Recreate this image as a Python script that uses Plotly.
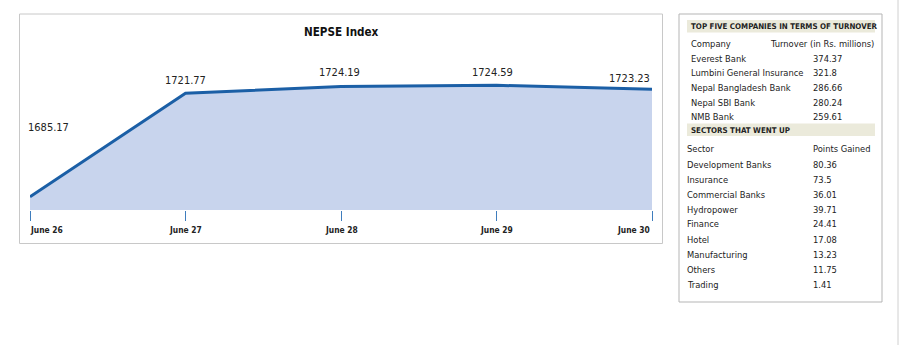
import plotly.graph_objects as go

# NEPSE index, daily close
dates = ["June 26", "June 27", "June 28", "June 29", "June 30"]
index_close = [1685.17, 1721.77, 1724.19, 1724.59, 1723.23]

# Top five companies by turnover
companies = ["Everest Bank", "Lumbini General Insurance", "Nepal Bangladesh Bank",
             "Nepal SBI Bank", "NMB Bank"]
turnover = ["374.37", "321.8", "286.66", "280.24", "259.61"]

# Sectors that went up
sectors = ["Development Banks", "Insurance", "Commercial Banks", "Hydropower",
           "Finance", "Hotel", "Manufacturing", "Others", "Trading"]
points_gained = ["80.36", "73.5", "36.01", "39.71", "24.41", "17.08",
                 "13.23", "11.75", "1.41"]

W, H = 900, 345
FONT = "DejaVu Sans Condensed, Roboto"
LINE = "#1b5fa6"
FILL = "#c8d4ed"
BAND = "#ebeadb"
INK = "#222"

def px(x):
    return x / W

def py(y):
    return 1 - y / H

fig = go.Figure()
fig.add_trace(go.Scatter(
    x=list(range(len(dates))), y=index_close, mode="lines",
    line=dict(color=LINE, width=3), fill="tozeroy", fillcolor=FILL,
    hoverinfo="skip", showlegend=False,
))

annotations = []
# value labels above each point
label_yshift = [69, 12.6, 13.5, 13, 11]
label_xshift = [18, 0, -2, -4, 0]
label_anchor = ["center", "center", "center", "center", "right"]
for i, v in enumerate(index_close):
    annotations.append(dict(
        x=i, y=v, xref="x", yref="y", text=f"{v:.2f}", showarrow=False,
        xanchor=label_anchor[i], yanchor="middle",
        yshift=label_yshift[i], xshift=label_xshift[i],
        font=dict(family=FONT, size=11, color=INK)))

# date labels under the axis ticks
date_anchor = ["left", "center", "center", "center", "right"]
for i, d in enumerate(dates):
    annotations.append(dict(
        x=i, y=py(230), xref="x", yref="paper", text=f"<b>{d}</b>",
        showarrow=False, xanchor=date_anchor[i], yanchor="middle",
        xshift=-2 if i == 0 else 0,
        font=dict(family=FONT, size=8.4, color=INK)))

annotations.append(dict(
    x=px(341), y=py(32), xref="paper", yref="paper", text="<b>NEPSE Index</b>",
    showarrow=False, xanchor="center", yanchor="middle",
    font=dict(family=FONT, size=11.6, color="#111")))

# side table
def txt(x, y, s, anchor="left", size=9.3, bold=False):
    annotations.append(dict(
        x=px(x), y=py(y), xref="paper", yref="paper",
        text=f"<b>{s}</b>" if bold else s, showarrow=False,
        xanchor=anchor, yanchor="middle",
        font=dict(family=FONT, size=size, color=INK)))

txt(689, 26.5, "TOP FIVE COMPANIES IN TERMS OF TURNOVER", size=7.9, bold=True)
txt(689, 43, "Company")
txt(876, 43, "Turnover (in Rs. millions)", anchor="right")
for k, (c, t) in enumerate(zip(companies, turnover)):
    y = 58.3 + k * 14.6
    txt(689, y, c)
    txt(811, y, t)
txt(689, 130, "SECTORS THAT WENT UP", size=7.9, bold=True)
txt(685, 148.3, "Sector")
txt(811, 148.3, "Points Gained")
for k, (s, p) in enumerate(zip(sectors, points_gained)):
    y = 164 + k * 15
    txt(685, y, s)
    txt(811, y, p)

shapes = [
    dict(type="rect", xref="paper", yref="paper", x0=px(19.5), x1=px(662.5),
         y0=py(243.5), y1=py(14), line=dict(color="#c8c8c8", width=1)),
    dict(type="rect", xref="paper", yref="paper", x0=px(679), x1=px(882),
         y0=py(302), y1=py(14), line=dict(color="#b5b5b5", width=1)),
    dict(type="rect", xref="paper", yref="paper", x0=px(687), x1=px(875),
         y0=py(32.5), y1=py(20), fillcolor=BAND, line=dict(width=0), layer="below"),
    dict(type="rect", xref="paper", yref="paper", x0=px(687), x1=px(875),
         y0=py(136), y1=py(123.5), fillcolor=BAND, line=dict(width=0), layer="below"),
    dict(type="line", xref="paper", yref="paper", x0=px(898), x1=px(898),
         y0=0, y1=1, line=dict(color="#d0d0d0", width=1)),
]

fig.update_layout(
    width=W, height=H, margin=dict(l=0, r=0, t=0, b=0),
    paper_bgcolor="white", plot_bgcolor="white",
    xaxis=dict(domain=[px(30), px(652)], range=[0, len(dates) - 1],
               tickvals=list(range(len(dates))), showticklabels=False,
               ticks="outside", ticklen=10, tickcolor="#3f7dbd", tickwidth=1,
               showgrid=False, zeroline=False, showline=False),
    yaxis=dict(domain=[py(210), py(60)], range=[1680.46, 1733.55],
               visible=False, showgrid=False, zeroline=False),
    annotations=annotations, shapes=shapes,
)

fig.write_html("out.html")
